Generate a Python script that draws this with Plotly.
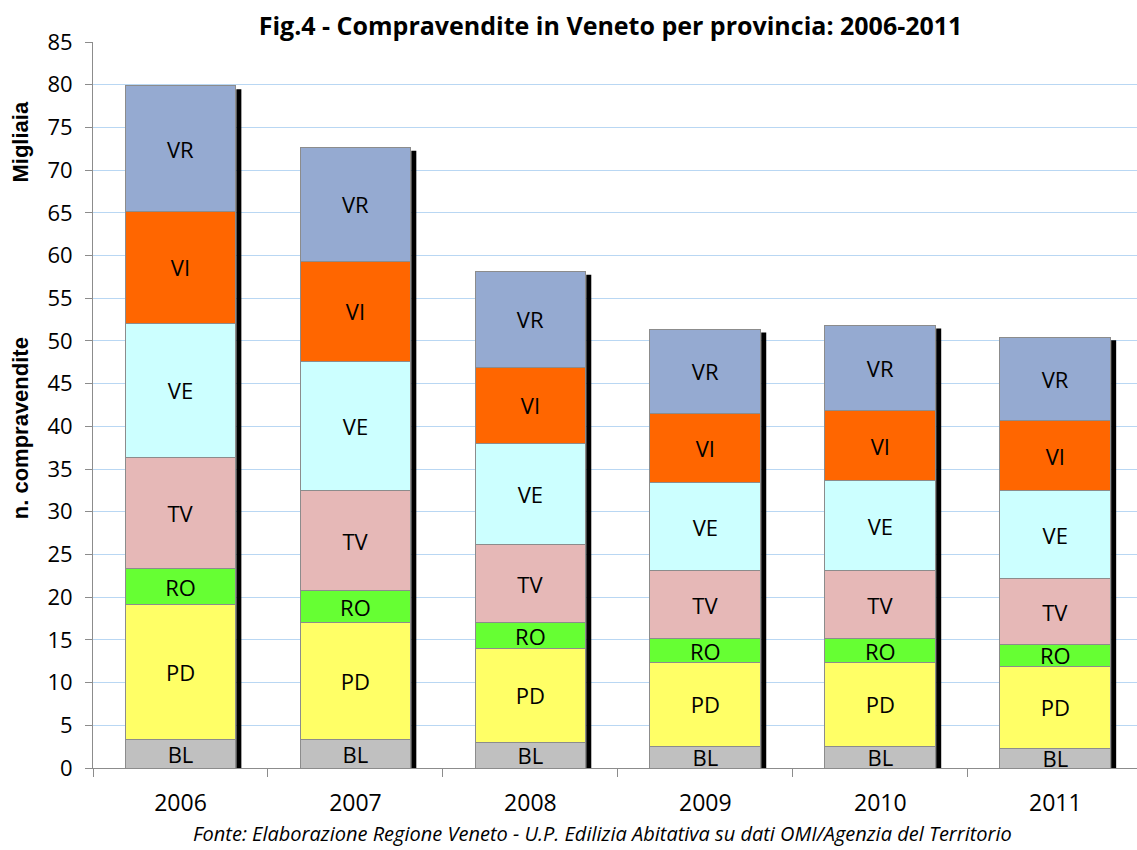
import plotly.graph_objects as go

years = ["2006", "2007", "2008", "2009", "2010", "2011"]
provinces = ["BL", "PD", "RO", "TV", "VE", "VI", "VR"]
BL = [3.28, 3.28, 3.00, 2.53, 2.53, 2.29]
PD = [15.82, 13.72, 10.99, 9.82, 9.82, 9.60]
RO = [4.22, 3.78, 3.04, 2.81, 2.78, 2.58]
TV = [13.06, 11.70, 9.09, 7.96, 7.95, 7.68]
VE = [15.68, 15.17, 11.90, 10.29, 10.53, 10.29]
VI = [13.10, 11.66, 8.89, 8.12, 8.19, 8.19]
VR = [14.69, 13.34, 11.23, 9.86, 10.06, 9.83]
series = {"BL": BL, "PD": PD, "RO": RO, "TV": TV, "VE": VE, "VI": VI, "VR": VR}
colors = {"BL": "#c0c0c0", "PD": "#ffff66", "RO": "#66ff33", "TV": "#e6b8b7",
          "VE": "#ccffff", "VI": "#ff6600", "VR": "#95aad1"}

FONT = "Open Sans"
AXFONT = "Liberation Sans"
fig = go.Figure()
for p in provinces:
    fig.add_trace(go.Bar(
        x=years, y=series[p], name=p,
        marker=dict(color=colors[p], line=dict(color="#8c8c8c", width=1)),
        text=[p] * len(years), textposition="inside", insidetextanchor="middle",
        textangle=0, textfont=dict(family=FONT, size=22, color="black"),
        hoverinfo="skip", cliponaxis=False,
    ))

bargap = 0.367
half = (1 - bargap) / 2
totals = [sum(series[p][i] for p in provinces) for i in range(len(years))]
for i, t in enumerate(totals):
    fig.add_shape(type="rect", xref="x", yref="y", layer="above",
                  xsizemode="pixel", xanchor=i + half, x0=0.5, x1=5.5,
                  y0=0, y1=t - 0.39, fillcolor="black", line_width=0)

fig.update_layout(
    width=1137, height=850,
    barmode="stack", bargap=bargap,
    plot_bgcolor="white", paper_bgcolor="white",
    showlegend=False,
    margin=dict(l=93, r=0, t=42, b=82, autoexpand=False),
    font=dict(family=FONT, size=22, color="black"),
    title=dict(text="<b>Fig.4 - Compravendite in Veneto per provincia: 2006-2011</b>",
               x=0.537, xanchor="center", y=1 - 26 / 850, yanchor="middle",
               font=dict(family=FONT, size=25, color="black")),
    xaxis=dict(type="category", range=[-0.5, 5.467], showgrid=False,
               showline=True, linecolor="#8c8c8c", linewidth=1,
               ticks="outside", tickson="boundaries", ticklen=8, tickcolor="#8c8c8c",
               tickfont=dict(family=FONT, size=23), ticklabelstandoff=14),
    yaxis=dict(range=[0, 85], dtick=5, showgrid=True, gridcolor="#b9d7f3", gridwidth=1,
               showline=True, linecolor="#8c8c8c", linewidth=1,
               ticks="outside", ticklen=7, tickcolor="#8c8c8c",
               tickfont=dict(family=FONT, size=22), zeroline=False,
               ticklabelstandoff=8),
    annotations=[
        dict(text="<b>Migliaia</b>", xref="paper", yref="paper", x=-0.0699, y=0.8616,
             xanchor="center", yanchor="middle", textangle=-90, showarrow=False,
             font=dict(family=AXFONT, size=22)),
        dict(text="<b>n. compravendite</b>", xref="paper", yref="paper", x=-0.0699, y=0.468,
             xanchor="center", yanchor="middle", textangle=-90, showarrow=False,
             font=dict(family=AXFONT, size=22)),
        dict(text="<i>Fonte: Elaborazione Regione Veneto - U.P. Edilizia Abitativa su dati OMI/Agenzia del Territorio</i>",
             xref="paper", yref="paper", x=(602 - 93) / 1044, y=(768 - 834) / 726,
             xanchor="center", yanchor="middle",
             showarrow=False, font=dict(family=FONT, size=20)),
    ],
    uniformtext=dict(mode="show", minsize=22),
)

fig.write_html("out.html", config={"displayModeBar": False},
               post_script="document.body.style.margin='0';document.body.style.overflow='hidden';")
